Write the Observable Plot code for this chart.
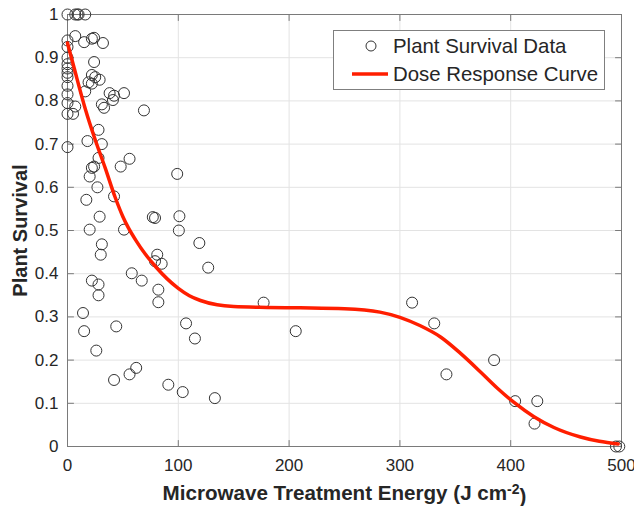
<!DOCTYPE html>
<html><head><meta charset="utf-8">
<script src="https://cdn.jsdelivr.net/npm/d3@7"></script>
<script src="https://cdn.jsdelivr.net/npm/@observablehq/plot@0.6"></script>
<style>body{margin:0;background:#fff;} #chart{position:relative;width:634px;height:506px;}</style>
</head><body><div id="chart"></div>
<script>
// Scatter data: plant survival vs microwave energy
const dataX = [0,0,0,0,0,0,0,0,0,0,0,0,0,
  7,9,10,16,
  7,15,22,24,32,
  24,
  22,25,19,22,29,
  16,
  38,42,51,41,
  31,33,
  69,
  7,5,
  28,
  18,31,
  28,
  20,22,24,
  48,56,
  27,
  17,42,
  29,
  20,51,77,
  31,30,
  81,79,85,
  58,67,22,
  28,28,
  82,82,
  14,15,44,
  26,
  42,56,62,91,
  99,79,101,100.5,119,127,
  177,107,115,104,133,
  206,311,331,342,385,404,424,421.5,495,498];
const dataY = [1.0,0.94,0.925,0.90,0.885,0.875,0.865,0.855,0.835,0.815,0.795,0.77,0.693,
  1,1,1,1,
  0.95,0.936,0.944,0.946,0.934,
  0.89,
  0.86,0.855,0.843,0.84,0.849,
  0.822,
  0.818,0.812,0.818,0.802,
  0.792,0.784,
  0.778,
  0.787,0.77,
  0.733,
  0.707,0.70,
  0.668,
  0.625,0.645,0.648,
  0.648,0.666,
  0.60,
  0.571,0.579,
  0.532,
  0.502,0.502,0.531,
  0.468,0.444,
  0.444,0.429,0.423,
  0.401,0.384,0.384,
  0.375,0.35,
  0.363,0.334,
  0.309,0.267,0.278,
  0.222,
  0.154,0.167,0.182,0.143,
  0.631,0.529,0.533,0.50,0.471,0.414,
  0.333,0.285,0.25,0.126,0.112,
  0.267,0.333,0.285,0.167,0.20,0.105,0.105,0.053,0,0];

// Dose response curve
const curveX = [0,6,16,25,34,43,50,55,62,70,80,90,100,110,120,135,150,180,210,250,282,300,318,337,355,373,388,403,421,439,463,480,497];
const curveY = [0.934,0.876,0.782,0.71,0.645,0.577,0.532,0.506,0.476,0.446,0.415,0.388,0.366,0.349,0.338,0.328,0.324,0.322,0.321,0.319,0.311,0.299,0.28,0.253,0.215,0.172,0.135,0.102,0.069,0.044,0.022,0.012,0.006];

const xTicks = [0,100,200,300,400,500];
const xTickLabels = ["0","100","200","300","400","500"];
const yTicks = [0,0.1,0.2,0.3,0.4,0.5,0.6,0.7,0.8,0.9,1];
const yTickLabels = ["0","0.1","0.2","0.3","0.4","0.5","0.6","0.7","0.8","0.9","1"];
const xLabelMain = "Microwave Treatment Energy (J cm";
const xLabelSup = "-2";
const xLabelEnd = ")";
const yLabel = "Plant Survival";
const legendLabels = ["Plant Survival Data","Dose Response Curve"];

const points = dataX.map((x,i)=>({x, y:dataY[i]}));
const curve = curveX.map((x,i)=>({x, y:curveY[i]}));
const font = "'Liberation Sans', Arial, sans-serif";
const axisStroke = "#7a7a7a";
const textColor = "#262626";
const fullXLabel = xLabelMain + xLabelSup + xLabelEnd;
const tickShape = {draw(context, l) { context.moveTo(0, 0); context.lineTo(0, -l); }};
const tickOpts = {length: 6, anchor: "start", shape: tickShape, stroke: axisStroke, strokeWidth: 1};

const plot = Plot.plot({
  width: 634, height: 506,
  marginLeft: 67, marginRight: 13, marginTop: 14, marginBottom: 60,
  style: {fontFamily: font, background: "white", color: textColor},
  x: {domain: [0,500]},
  y: {domain: [0,1]},
  marks: [
    Plot.gridX(xTicks.slice(1,-1), {stroke: "#e3e3e3", strokeOpacity: 1, strokeWidth: 1}),
    Plot.gridY(yTicks.slice(1,-1), {stroke: "#e3e3e3", strokeOpacity: 1, strokeWidth: 1}),
    Plot.frame({stroke: axisStroke, strokeWidth: 1}),
    Plot.axisX(xTicks, {anchor: "bottom", tickSize: 0, tickPadding: 12, fontSize: 17, fill: textColor,
      tickFormat: d => xTickLabels[xTicks.indexOf(d)], label: null}),
    Plot.axisY(yTicks, {anchor: "left", tickSize: 0, tickPadding: 9, fontSize: 17, fill: textColor,
      tickFormat: d => yTickLabels[yTicks.indexOf(d)], label: null}),
    Plot.vector(xTicks, {x: d => d, frameAnchor: "bottom", rotate: 0, ...tickOpts}),
    Plot.vector(xTicks, {x: d => d, frameAnchor: "top", rotate: 180, ...tickOpts}),
    Plot.vector(yTicks, {y: d => d, frameAnchor: "left", rotate: 90, ...tickOpts}),
    Plot.vector(yTicks, {y: d => d, frameAnchor: "right", rotate: -90, ...tickOpts}),
    Plot.dot(points, {x: "x", y: "y", r: 5.5, stroke: "#333", fill: "none", strokeWidth: 1}),
    Plot.line(curve, {x: "x", y: "y", stroke: "#ff1e00", strokeWidth: 3.5, curve: "monotone-x"}),
    Plot.text([fullXLabel], {frameAnchor: "bottom", dy: 47, lineAnchor: "middle", textAnchor: "middle", fontSize: 20.6, fontWeight: "bold", fill: textColor, text: d => d}),
    Plot.text([yLabel], {frameAnchor: "left", dx: -47, rotate: -90, lineAnchor: "middle", textAnchor: "middle", fontSize: 20, fontWeight: "bold", fill: textColor, text: d => d})
  ]
});
document.getElementById("chart").appendChild(plot);

const svg = d3.select(plot);
// superscript in x label
svg.selectAll("text").filter(function(){ return this.textContent === fullXLabel; }).each(function(){
  const t = d3.select(this);
  t.text(null);
  t.append("tspan").text(xLabelMain);
  t.append("tspan").attr("dy", "-0.45em").attr("font-size", "14px").text(xLabelSup);
  t.append("tspan").attr("dy", "0.45em").text(xLabelEnd);
});

// legend
const lg = svg.append("g").attr("font-family", font).attr("font-size", 20.4).attr("fill", textColor).attr("text-anchor", "start");
lg.append("rect").attr("x", 333.5).attr("y", 30.5).attr("width", 271).attr("height", 59)
  .attr("fill", "white").attr("stroke", "#7f7f7f");
lg.append("circle").attr("cx", 371).attr("cy", 46).attr("r", 5).attr("fill", "none").attr("stroke", "#333");
lg.append("line").attr("x1", 352).attr("x2", 388).attr("y1", 74).attr("y2", 74).attr("stroke", "#ff1e00").attr("stroke-width", 3.5);
lg.append("text").attr("x", 393).attr("y", 46).attr("dy", "0.35em").text(legendLabels[0]);
lg.append("text").attr("x", 393).attr("y", 74).attr("dy", "0.35em").text(legendLabels[1]);
</script>
</body></html>
